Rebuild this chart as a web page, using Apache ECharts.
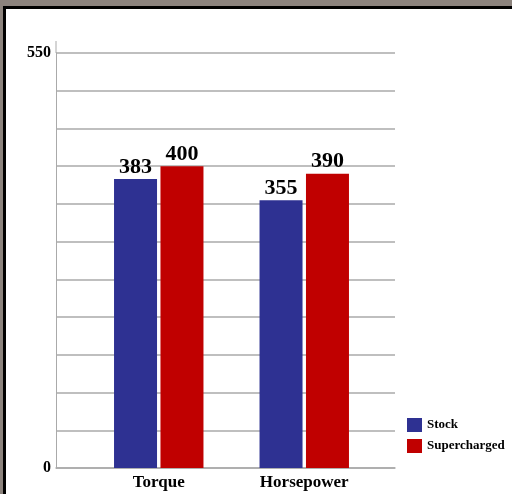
<!DOCTYPE html>
<html><head><meta charset="utf-8">
<script src="https://cdn.jsdelivr.net/npm/echarts@6/dist/echarts.min.js"></script>
<style>
html,body{margin:0;padding:0;width:512px;height:494px;overflow:hidden;background:#8c837d;}
#frame{position:absolute;left:3px;top:6px;width:600px;height:600px;border-left:3px solid #000;border-top:3px solid #000;background:#fff;}
#chart{position:absolute;left:0;top:0;width:512px;height:494px;}
</style></head>
<body><div id="frame"></div><div id="chart"></div>
<script>
const categories = ['Torque', 'Horsepower'];
const stock = [383, 355];
const supercharged = [400, 390];
const seriesNames = ['Stock', 'Supercharged'];
const yMin = 0, yMax = 550, yStep = 50;

const font = "'Liberation Serif','Times New Roman',serif";
const chart = echarts.init(document.getElementById('chart'), null, {renderer: 'canvas'});
const labelCfg = {show: true, position: 'top', distance: 1, color: '#000', fontFamily: font, fontWeight: 'bold', fontSize: 22};
chart.setOption({
  backgroundColor: 'transparent',
  animation: false,
  legend: {
    orient: 'vertical', left: 407, top: 418, padding: 0, itemWidth: 15, itemHeight: 14, itemGap: 7,
    icon: 'rect',
    textStyle: {fontFamily: font, fontWeight: 'bold', fontSize: 13, color: '#000'},
    data: seriesNames
  },
  grid: [
    {left: 56, top: 53, width: 339, height: 415},
    {left: 86, top: 53, width: 291, height: 415}
  ],
  xAxis: [
    {gridIndex: 0, type: 'category', data: categories, axisLine: {lineStyle: {color: '#aaa', width: 1.5}}, axisTick: {show: false}, axisLabel: {show: false}},
    {gridIndex: 1, type: 'category', data: categories, axisLine: {show: false}, axisTick: {show: false},
      axisLabel: {color: '#000', fontFamily: font, fontWeight: 'bold', fontSize: 17, margin: 6}}
  ],
  yAxis: [
    {gridIndex: 0, type: 'value', min: yMin, max: yMax, interval: yStep,
      axisLine: {show: true, lineStyle: {color: '#aaa', width: 1}},
      axisTick: {show: false},
      splitLine: {lineStyle: {color: '#aaa', width: 1.5}},
      axisLabel: {color: '#000', fontFamily: font, fontWeight: 'bold', fontSize: 16, margin: 5,
        formatter: v => (v === yMin || v === yMax) ? String(v) : ''}},
    {gridIndex: 1, type: 'value', min: yMin, max: yMax, interval: yStep, show: false, splitLine: {show: false}}
  ],
  graphic: [{type: 'line', shape: {x1: 56, y1: 41, x2: 56, y2: 53}, style: {stroke: '#aaa', lineWidth: 1}}],
  series: [
    {name: seriesNames[0], type: 'bar', xAxisIndex: 1, yAxisIndex: 1, data: stock, barWidth: 43, barGap: '8%', itemStyle: {color: '#2e3192'}, label: labelCfg},
    {name: seriesNames[1], type: 'bar', xAxisIndex: 1, yAxisIndex: 1, data: supercharged, barWidth: 43, barGap: '8%', itemStyle: {color: '#c00000'}, label: labelCfg}
  ]
});
</script></body></html>
